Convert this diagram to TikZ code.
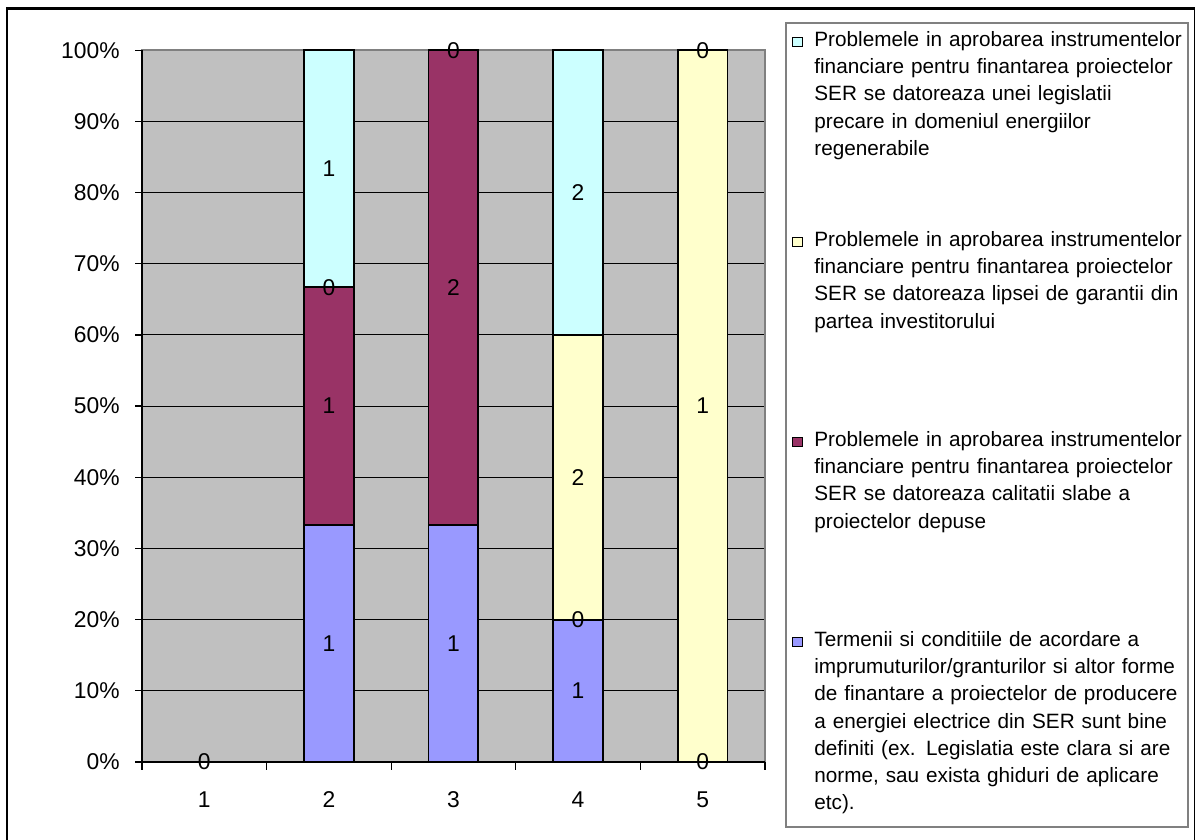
\documentclass[tikz,border=0pt]{standalone}
\usepackage{fontspec}
\setmainfont{Liberation Sans}
\usepackage{tikz}
\usetikzlibrary{positioning}

\definecolor{sercyan}{HTML}{CCFFFF}
\definecolor{seryellow}{HTML}{FFFFCC}
\definecolor{sermaroon}{HTML}{993366}
\definecolor{serblue}{HTML}{9999FF}
\definecolor{plotgray}{HTML}{C0C0C0}
\definecolor{framegray}{HTML}{808080}

\tikzset{
	lbl/.style={font=\fontsize{13}{15.6}\selectfont, inner sep=0pt},
	seg/.style={draw=black, line width=1.1pt},
	grid line/.style={black, line width=0.6pt},
	legtext/.style={font=\fontsize{11.8}{15.4}\selectfont, inner sep=0pt,
		anchor=north west, align=left, text width=7.6cm},
	legkey/.style={draw=black, line width=0.7pt, minimum size=0.19cm, inner sep=0pt}
}

\begin{document}
\begin{tikzpicture}[x=0.02cm, y=0.02cm]
	
	\useasboundingbox (0,0) rectangle (1195,839);
	\clip (0,0) rectangle (1195,839);
	
	%Frame
	\draw[line width=1.7pt] (7,-20) -- (7,830) -- (1195,830) -- (1195,-20);
	
	%Plot area
	\begin{scope}[shift={(142,77)}, x=2.492cm, y=0.1424cm]
		\fill[plotgray] (0,0) rectangle (5,100);
		\foreach \p in {10,20,...,90}
			\draw[grid line] (0,\p) -- (5,\p);
		\draw[framegray, line width=0.8pt] (0,0) rectangle (5,100);
		
		%Bars
		\draw[seg, fill=serblue] (1.3,0) rectangle (1.7,33.33);
		\draw[seg, fill=sermaroon] (1.3,33.33) rectangle (1.7,66.67);
		\draw[seg, fill=sercyan] (1.3,66.67) rectangle (1.7,100);
		
		\draw[seg, fill=serblue] (2.3,0) rectangle (2.7,33.33);
		\draw[seg, fill=sermaroon] (2.3,33.33) rectangle (2.7,100);
		
		\draw[seg, fill=serblue] (3.3,0) rectangle (3.7,20);
		\draw[seg, fill=seryellow] (3.3,20) rectangle (3.7,60);
		\draw[seg, fill=sercyan] (3.3,60) rectangle (3.7,100);
		
		\draw[seg, fill=seryellow] (4.3,0) rectangle (4.7,100);
		
		%Axes
		\draw[line width=0.7pt] (0,100) -- (0,0) -- (5,0);
		\foreach \p in {0,10,...,100}{
			\draw[line width=0.7pt] (-0.056,\p) -- (0,\p);
			\node[lbl, anchor=east] (ylab\p) at (-0.177,\p) {\p\%};
		}
		\foreach \c in {0,...,5}
			\draw[line width=0.7pt] (\c,0) -- (\c,-1.12);
		\foreach \c in {1,...,5}
			\node[lbl] (xlab\c) at (\c-0.5,-5.34) {\c};
		
		%Values
		\node[lbl] (v1a) at (0.5,0) {0};
		\node[lbl] (v2a) at (1.5,16.67) {1};
		\node[lbl] (v2b) at (1.5,50) {1};
		\node[lbl] (v2c) at (1.5,66.67) {0};
		\node[lbl] (v2d) at (1.5,83.33) {1};
		\node[lbl] (v3a) at (2.5,16.67) {1};
		\node[lbl] (v3b) at (2.5,66.67) {2};
		\node[lbl] (v3c) at (2.5,100) {0};
		\node[lbl] (v4a) at (3.5,10) {1};
		\node[lbl] (v4b) at (3.5,20) {0};
		\node[lbl] (v4c) at (3.5,40) {2};
		\node[lbl] (v4d) at (3.5,80) {2};
		\node[lbl] (v5a) at (4.5,0) {0};
		\node[lbl] (v5b) at (4.5,50) {1};
		\node[lbl] (v5c) at (4.5,100) {0};
	\end{scope}
	
	%Legend
	\draw[framegray, line width=0.6pt] (786,12) rectangle (1188,816);
	
	\node[legkey, fill=sercyan] (keycyan) at (797.5,797) {};
	\node[legkey, fill=seryellow] (keyyellow) at (797.5,597) {};
	\node[legkey, fill=sermaroon] (keymaroon) at (797.5,397) {};
	\node[legkey, fill=serblue] (keyblue) at (797.5,197) {};
	
	\node[legtext] (txtcyan) at (814,807.5) {Problemele in aprobarea instrumentelor\\
		financiare pentru finantarea proiectelor\\
		SER se datoreaza unei legislatii\\
		precare in domeniul energiilor\\
		regenerabile};
	\node[legtext] (txtyellow) at (814,607.5) {Problemele in aprobarea instrumentelor\\
		financiare pentru finantarea proiectelor\\
		SER se datoreaza lipsei de garantii din\\
		partea investitorului};
	\node[legtext] (txtmaroon) at (814,407.5) {Problemele in aprobarea instrumentelor\\
		financiare pentru finantarea proiectelor\\
		SER se datoreaza calitatii slabe a\\
		proiectelor depuse};
	\node[legtext] (txtblue) at (814,207.5) {Termenii si conditiile de acordare a\\
		imprumuturilor/granturilor si altor forme\\
		de finantare a proiectelor de producere\\
		a energiei electrice din SER sunt bine\\
		definiti (ex. Legislatia este clara si are\\
		norme, sau exista ghiduri de aplicare\\
		etc).};
	
\end{tikzpicture}
\end{document}
